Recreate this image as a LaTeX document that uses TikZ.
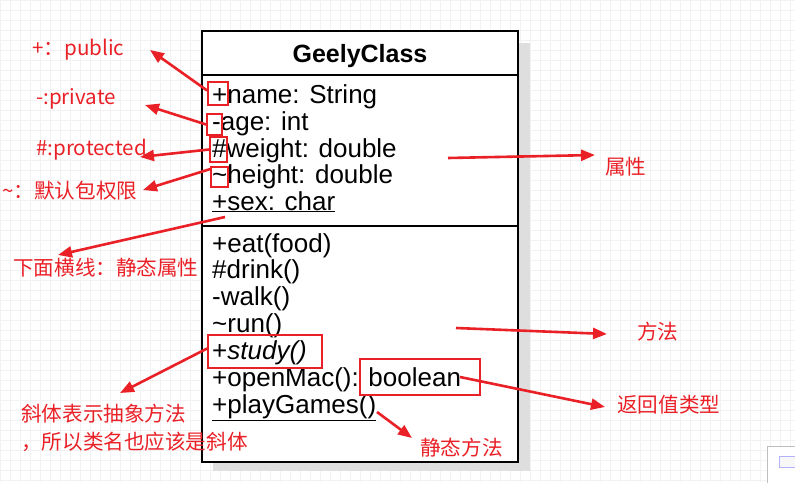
\documentclass[tikz,border=0pt]{standalone}
\usepackage{fontspec}
\setmainfont{Liberation Sans}
\newfontfamily\cjk{Noto Sans CJK SC}
\usetikzlibrary{arrows.meta}
\definecolor{notered}{RGB}{234,32,39}

\begin{document}
\begin{tikzpicture}[x=1pt,y=-1pt,
    part/.style = {shape=rectangle, draw=black, line width=1.6pt,
      fill=white, minimum width=316pt, inner sep=0pt},
    member/.style = {anchor=base west, inner sep=0pt,
      font=\fontsize{26}{28}\selectfont},
    hilite/.style = {shape=rectangle, draw=notered, line width=1.8pt,
      inner sep=0pt},
    note/.style = {anchor=west, inner sep=0pt, text=notered,
      font=\cjk\fontsize{20.6}{28}\selectfont},
    pointer/.style = {draw=notered, line width=2.6pt,
      -{Triangle[length=14pt,width=11pt]}}]
    \useasboundingbox (0,0) rectangle (795,482);
    \draw[black!5, line width=0.5pt, step=10pt] (0,0) grid (795,482);
    \draw[black!25, fill=white] (767,446) rectangle (800,490);
    \draw[blue!30, fill=black!3] (779,456) rectangle (795,467);

    % the class
    \fill[black!13] (213,43) rectangle (530,471);
    \node[part, minimum height=44pt] (head) at (360,53) {};
    \node[part, minimum height=151pt] (attrs) at (360,150.5) {};
    \node[part, minimum height=236pt] (meths) at (360,344) {};
    \node[anchor=base, inner sep=0pt, font=\bfseries\fontsize{25}{28}\selectfont]
      (title) at (360,62) {GeelyClass};

    \node[member] (nm) at (212,103) {+name: String};
    \node[member] (age) at (212,130) {-age: int};
    \node[member] (wt) at (212,157) {\#weight: double};
    \node[member] (ht) at (212,183) {\textasciitilde height: double};
    \node[member] (sex) at (212,210) {\underline{+sex: char}};

    \node[member] (eat) at (212,252) {+eat(food)};
    \node[member] (drink) at (212,278) {\#drink()};
    \node[member] (walk) at (212,305) {-walk()};
    \node[member] (run) at (212,332) {\textasciitilde run()};
    \node[member] (study) at (212,359) {+\textit{study()}};
    \node[member] (omac) at (212,386) {+openMac(): boolean};
    \node[member] (pg) at (212,413) {\underline{+playGames()}};

    % red marks
    \node[hilite, minimum width=20pt, minimum height=23pt] (pbox) at (218,93.5) {};
    \node[hilite, minimum width=15pt, minimum height=21pt] (mbox) at (214.5,124.5) {};
    \node[hilite, minimum width=17pt, minimum height=25pt] (hbox) at (218.5,149.5) {};
    \node[hilite, minimum width=17pt, minimum height=20pt] (tbox) at (219.5,177) {};
    \node[hilite, minimum width=114pt, minimum height=33pt] (sbox) at (265,351.5) {};
    \node[hilite, minimum width=120pt, minimum height=36pt] (bbox) at (420,377) {};

    % notes
    \node[note] (pub) at (32,50) {+：public};
    \node[note] (priv) at (36,99) {-:private};
    \node[note] (prot) at (36,150) {\#:protected};
    \node[note] (dflt) at (2,191) {\textasciitilde：默认包权限};
    \node[note] (stat) at (13,268) {下面横线：静态属性};
    \node[note, anchor=north west, align=left] (abst) at (21,404)
      {斜体表示抽象方法\\，所以类名也应该是斜体};
    \node[note] (attr) at (605,167) {属性};
    \node[note] (meth) at (637,332) {方法};
    \node[note] (ret) at (617,405) {返回值类型};
    \node[note] (smeth) at (420,448) {静态方法};

    % arrows
    \draw[pointer] ([yshift=3pt]pbox.west) -- ([xshift=118pt]pub.west);
    \draw[pointer] (mbox.west) -- ([xshift=109pt,yshift=-6pt]priv.west);
    \draw[pointer] (hbox.west) -- ([xshift=104pt,yshift=-7pt]prot.west);
    \draw[pointer] ([yshift=-3pt]tbox.north west) -- ([xshift=141pt,yshift=1pt]dflt.west);
    \draw[pointer] ([xshift=13pt,yshift=-7pt]sex.base west) -- ([xshift=45pt,yshift=13pt]stat.west);
    \draw[pointer] ([xshift=88pt,yshift=-7.5pt]attrs.center) -- ([xshift=-10pt,yshift=12pt]attr.west);
    \draw[pointer] ([xshift=96pt,yshift=16pt]meths.center) -- ([xshift=-30pt,yshift=-2pt]meth.west);
    \draw[pointer] ([xshift=40pt]bbox.center) -- ([xshift=-12pt,yshift=-2pt]ret.west);
    \draw[pointer] ([yshift=3pt]sbox.west) -- ([xshift=99pt,yshift=11pt]abst.north west);
    \draw[pointer] ([xshift=165pt,yshift=1pt]pg.base west) -- ([xshift=-8pt,yshift=10pt]smeth.west);
\end{tikzpicture}
\end{document}
